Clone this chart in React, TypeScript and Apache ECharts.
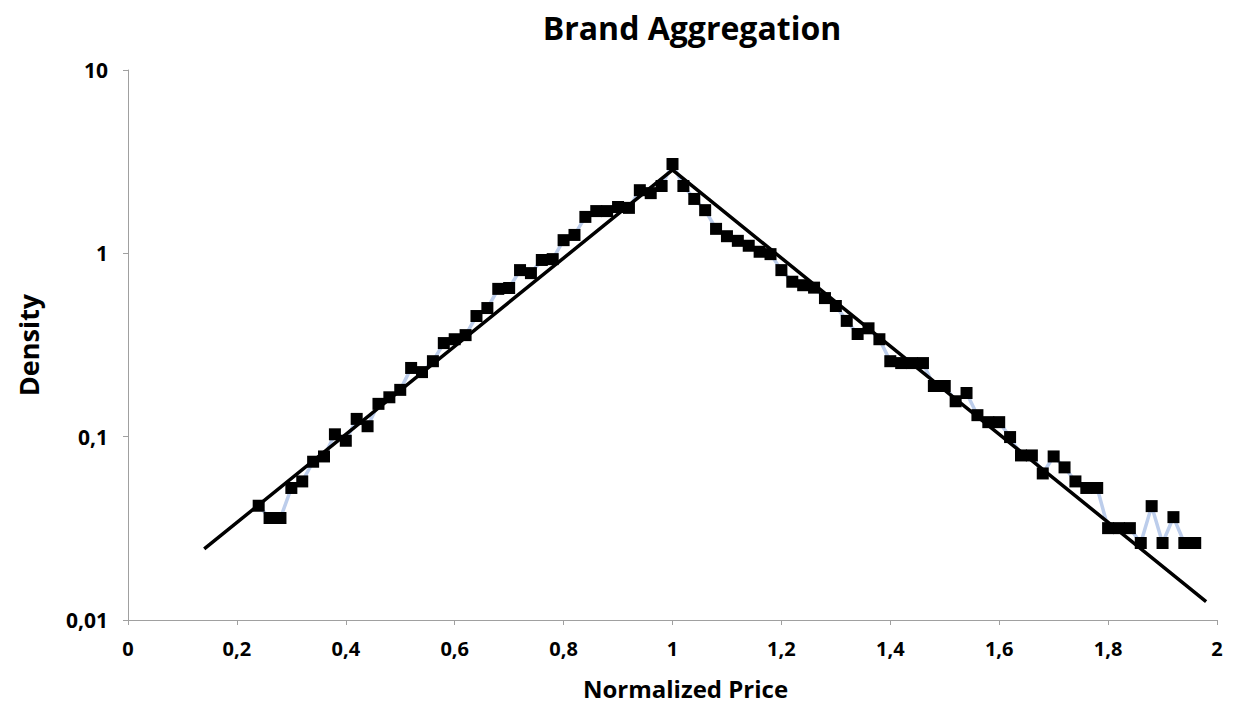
import React, { useEffect, useRef } from "react";
import * as echarts from "echarts";

const priceX = [
  0.24, 0.26, 0.28, 0.3, 0.32, 0.34, 0.36, 0.38, 0.4, 0.42, 0.44, 0.46, 0.48, 0.5,
  0.52, 0.54, 0.56, 0.58, 0.6, 0.62, 0.64, 0.66, 0.68, 0.7, 0.72, 0.74, 0.76, 0.78,
  0.8, 0.82, 0.84, 0.86, 0.88, 0.9, 0.92, 0.94, 0.96, 0.98, 1.0, 1.02, 1.04, 1.06,
  1.08, 1.1, 1.12, 1.14, 1.16, 1.18, 1.2, 1.22, 1.24, 1.26, 1.28, 1.3, 1.32, 1.34,
  1.36, 1.38, 1.4, 1.42, 1.44, 1.46, 1.48, 1.5, 1.52, 1.54, 1.56, 1.58, 1.6, 1.62,
  1.64, 1.66, 1.68, 1.7, 1.72, 1.74, 1.76, 1.78, 1.8, 1.82, 1.84, 1.86, 1.88, 1.9,
  1.92, 1.94, 1.96,
];
const densityY = [
  0.042, 0.036, 0.036, 0.0525, 0.057, 0.073, 0.078, 0.103, 0.095, 0.125, 0.114, 0.151, 0.164, 0.18,
  0.237, 0.225, 0.258, 0.324, 0.34, 0.358, 0.455, 0.503, 0.64, 0.647, 0.81, 0.78, 0.92, 0.93,
  1.18, 1.26, 1.58, 1.7, 1.7, 1.79, 1.77, 2.21, 2.13, 2.33, 3.07, 2.33, 1.98, 1.72,
  1.36, 1.24, 1.17, 1.1, 1.02, 0.99, 0.81, 0.7, 0.67, 0.65, 0.57, 0.516, 0.428, 0.363,
  0.39, 0.34, 0.258, 0.252, 0.252, 0.252, 0.189, 0.189, 0.156, 0.173, 0.131, 0.12, 0.12, 0.0995,
  0.079, 0.079, 0.063, 0.078, 0.068, 0.057, 0.0525, 0.0525, 0.0317, 0.0317, 0.0317, 0.0263, 0.0418, 0.0263,
  0.0364, 0.0263, 0.0263,
];
const fitX = [0.14, 1.0, 1.98];
const fitY = [0.0244, 2.85, 0.0126];

const fmt = (v: number) => String(parseFloat(Number(v).toPrecision(6))).replace(".", ",");

const FONT = "Open Sans";

export default function App() {
  const ref = useRef<HTMLDivElement>(null);
  useEffect(() => {
    if (!ref.current) return;
    const chart = echarts.init(ref.current, null, { renderer: "svg" });
    chart.setOption({
      animation: false,
      backgroundColor: "#ffffff",
      title: {
        text: "Brand Aggregation",
        left: 687,
        top: 6,
        textAlign: "center",
        textStyle: { fontFamily: FONT, fontWeight: "bold", fontSize: 32, color: "#000" },
      },
      grid: { left: 128, right: 20, top: 70, bottom: 89 },
      xAxis: {
        type: "value",
        min: 0,
        max: 2,
        interval: 0.2,
        name: "Normalized Price",
        nameLocation: "middle",
        nameGap: 56,
        nameTextStyle: {
          fontFamily: FONT,
          fontWeight: "bold",
          fontSize: 24,
          color: "#000",
          padding: [0, 0, 0, 26],
        },
        axisLine: { show: true, onZero: false, lineStyle: { color: "#a0a0a0", width: 1 } },
        axisTick: { show: true, length: 5, lineStyle: { color: "#a0a0a0" } },
        axisLabel: {
          formatter: fmt,
          fontFamily: FONT,
          fontWeight: "bold",
          fontSize: 20,
          color: "#000",
          margin: 18,
        },
        splitLine: { show: false },
      },
      yAxis: {
        type: "log",
        logBase: 10,
        min: 0.01,
        max: 10,
        name: "Density",
        nameLocation: "middle",
        nameGap: 86,
        nameTextStyle: { fontFamily: FONT, fontWeight: "bold", fontSize: 27, color: "#000" },
        axisLine: { show: true, lineStyle: { color: "#a0a0a0", width: 1 } },
        axisTick: { show: true, length: 5, lineStyle: { color: "#a0a0a0" } },
        axisLabel: {
          formatter: fmt,
          fontFamily: FONT,
          fontWeight: "bold",
          fontSize: 21,
          color: "#000",
          margin: 20,
        },
        splitLine: { show: false },
      },
      series: [
        {
          type: "line",
          data: priceX.map((x, i) => [x, densityY[i]]),
          symbol: "rect",
          symbolSize: 12,
          showSymbol: true,
          lineStyle: { color: "#bccdeb", width: 3.5 },
          itemStyle: { color: "#000000" },
          z: 2,
        },
        {
          type: "line",
          data: fitX.map((x, i) => [x, fitY[i]]),
          symbol: "none",
          lineStyle: { color: "#000000", width: 3.5 },
          z: 3,
        },
      ],
    });
    return () => chart.dispose();
  }, []);
  return (
    <div
      ref={ref}
      style={{ position: "fixed", left: 0, top: 0, width: 1237, height: 709 }}
    />
  );
}
